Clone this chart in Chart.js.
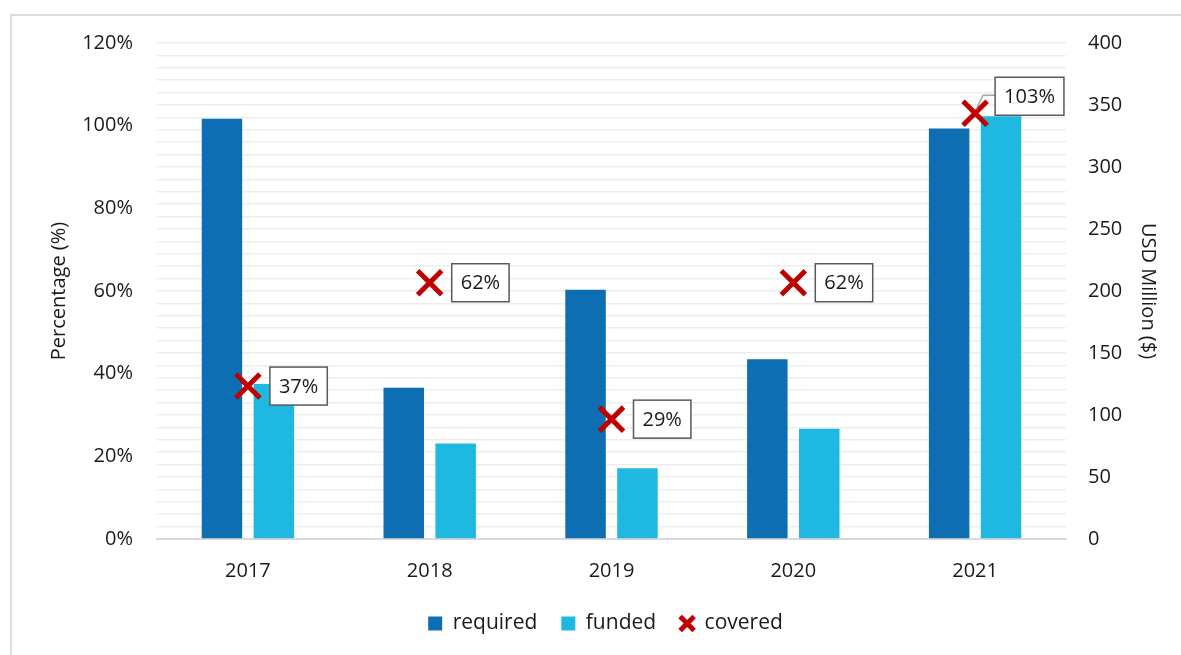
<!DOCTYPE html>
<html>
<head>
<meta charset="utf-8">
<script src="https://cdn.jsdelivr.net/npm/chart.js@4"></script>
<style>
  body { margin: 0; background: #fff; }
  #wrap { position: relative; width: 1181px; height: 655px; overflow: hidden; }
  #frame { position: absolute; left: 10px; top: 14px; width: 1200px; height: 700px;
           border-left: 2px solid #dcdcdc; border-top: 2px solid #dcdcdc; }
  canvas { position: absolute; left: 0; top: 0; }
</style>
</head>
<body>
<div id="wrap">
  <div id="frame"></div>
  <canvas id="chart" width="1181" height="655"></canvas>
</div>
<script>
const years = ['2017', '2018', '2019', '2020', '2021']
const required = [339, 122, 201, 145, 331]
const funded = [125, 77, 57, 89, 341]
const covered = [37, 62, 29, 62, 103]

const FONT = '"Open Sans", "Noto Sans", sans-serif'

// boxed % labels next to the covered markers
const labelBoxes = {
	id: 'labelBoxes',
	afterDatasetsDraw(chart, args, opts) {
		const ctx = chart.ctx
		const meta = chart.getDatasetMeta(2)
		ctx.save()
		ctx.font = '20px ' + FONT
		ctx.textBaseline = 'middle'
		meta.data.forEach(function(pt, i) {
			const text = covered[i] + '%'
			const off = opts.offsets[i] || [23, 0]
			const w = ctx.measureText(text).width + 18
			const h = 38
			const bx = pt.x + off[0]
			const cy = pt.y + off[1]
			if (off[1] !== 0) {
				ctx.strokeStyle = '#a6a6a6'
				ctx.lineWidth = 1.5
				ctx.beginPath()
				ctx.moveTo(pt.x + 1, pt.y - 4)
				ctx.lineTo(pt.x + 8, cy - 1)
				ctx.lineTo(bx, cy - 1)
				ctx.stroke()
			}
			ctx.fillStyle = '#fff'
			ctx.fillRect(bx, cy - h / 2, w, h)
			ctx.strokeStyle = '#595959'
			ctx.lineWidth = 1.5
			ctx.strokeRect(bx, cy - h / 2, w, h)
			ctx.fillStyle = '#1a1a1a'
			ctx.fillText(text, bx + 9, cy + 1)
		})
		ctx.restore()
	}
}

new Chart(document.getElementById('chart'), {
	type: 'bar',
	data: {
		labels: years,
		datasets: [
			{
				label: 'required',
				data: required,
				backgroundColor: '#0e6eb4',
				yAxisID: 'y1',
				order: 2,
				pointStyle: 'rect',
				barPercentage: 0.78,
				categoryPercentage: 0.571
			},
			{
				label: 'funded',
				data: funded,
				backgroundColor: '#1eb8e0',
				yAxisID: 'y1',
				order: 2,
				pointStyle: 'rect',
				barPercentage: 0.78,
				categoryPercentage: 0.571
			},
			{
				type: 'line',
				label: 'covered',
				data: covered,
				yAxisID: 'y',
				order: 0,
				showLine: false,
				pointStyle: 'crossRot',
				pointRadius: 17,
				pointHoverRadius: 17,
				borderColor: '#c00000',
				backgroundColor: '#c00000',
				borderWidth: 5
			}
		]
	},
	options: {
		responsive: false,
		animation: false,
		layout: { padding: { left: 40, right: 10, top: 43, bottom: 11 } },
		plugins: {
			tooltip: { enabled: false },
			legend: {
				position: 'bottom',
				labels: {
					usePointStyle: true,
					boxWidth: 14,
					boxHeight: 14,
					padding: 24,
					color: '#1a1a1a',
					font: { family: FONT, size: 21 },
					sort: function(a, b) { return a.datasetIndex - b.datasetIndex }
				}
			},
			labelBoxes: { offsets: [[22, 0], [22, 0], [22, 0], [22, 0], [20, -17]] }
		},
		scales: {
			x: {
				grid: { display: false, drawTicks: false },
				border: { color: '#d9d9d9', width: 2 },
				ticks: { color: '#1a1a1a', padding: 20, font: { family: FONT, size: 20 } },
				afterFit: function(scale) { scale.height = 50 }
			},
			y: {
				position: 'left',
				min: 0,
				max: 120,
				grid: { display: false, drawTicks: false },
				border: { display: false },
				ticks: {
					stepSize: 20,
					padding: 24,
					color: '#1a1a1a',
					font: { family: FONT, size: 20 },
					callback: function(v) { return v + '%' }
				},
				title: {
					display: true,
					text: 'Percentage (%)',
					color: '#1a1a1a',
					padding: { top: 7, bottom: 0 },
					font: { family: FONT, size: 20 }
				},
				afterFit: function(scale) { scale.width = 117 }
			},
			y1: {
				position: 'right',
				min: 0,
				max: 400,
				grid: { color: '#ededed', lineWidth: 1.5, drawTicks: false },
				border: { display: false },
				ticks: {
					stepSize: 10,
					autoSkip: false,
					padding: 22,
					color: '#1a1a1a',
					font: { family: FONT, size: 20 },
					callback: function(v) { return v % 50 === 0 ? v : '' }
				},
				title: {
					display: true,
					text: 'USD Million ($)',
					color: '#1a1a1a',
					padding: { top: 11, bottom: 0 },
					font: { family: FONT, size: 20 }
				},
				afterFit: function(scale) { scale.width = 105 }
			}
		}
	},
	plugins: [labelBoxes]
})
</script>
</body>
</html>
